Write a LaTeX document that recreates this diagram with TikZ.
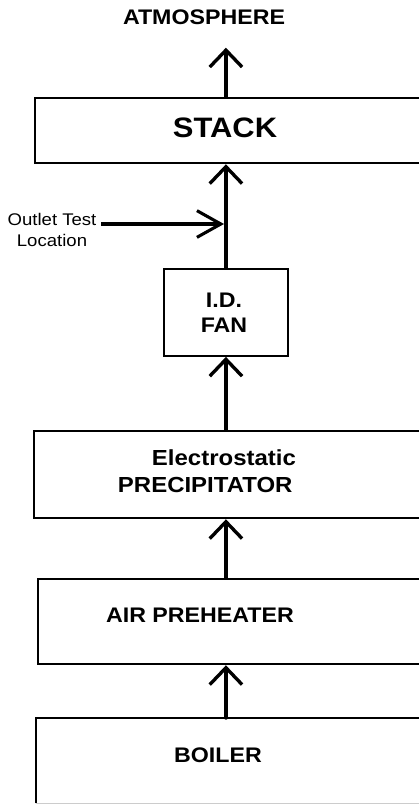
\documentclass[tikz,border=0pt]{standalone}
\usepackage{fontspec}
\setmainfont{Liberation Sans}[FakeStretch=1.1]
\usetikzlibrary{arrows.meta,positioning}

\tikzset{
  blk/.style={draw, line width=1.6pt, anchor=north west, inner sep=0pt},
  lbl/.style={font=\bfseries\fontsize{15}{17.7}\selectfont, align=center},
  flow/.style={line width=2.4pt, line cap=round,
    -{Straight Barb[length=12pt,width=23pt,line width=2.4pt]}},
  probe/.style={line width=2.2pt,
    -{Straight Barb[length=17pt,width=19pt,line width=2.2pt]}},
}

\begin{document}
\begin{tikzpicture}[x=0.025cm,y=-0.025cm]
  \useasboundingbox (0,0) rectangle (419,804);

  % boxes, top to bottom (right sides run off the page)
  \node[blk, minimum width=10.65cm, minimum height=1.625cm] (stack) at (34,97) {};
  \node[blk, line width=1.3pt, minimum width=3.1cm, minimum height=2.175cm] (fan) at (163,268) {};
  \node[blk, minimum width=10.675cm, minimum height=2.175cm] (precip) at (33,430) {};
  \node[blk, minimum width=10.575cm, minimum height=2.125cm] (airph) at (37,578) {};
  \node[blk, draw=none, minimum width=10.6cm, minimum height=2.075cm] (boiler) at (36,718) {};
  \draw[line width=1.6pt] (boiler.south west) -- (boiler.north west) -- (boiler.north east);
  \draw[line width=1pt, gray!40] (boiler.south west) -- (boiler.south east);

  % labels
  \node[lbl] (atmos) at (204,17) {ATMOSPHERE};
  \node[lbl, font=\bfseries\fontsize{20}{24}\selectfont] (stacktxt) at (225,128) {STACK};
  \node[lbl] (fantxt) at (224,313) {I.D.\\FAN};
  \node[lbl, font=\bfseries\fontsize{15.5}{19}\selectfont, align=left, anchor=west]
    (preciptxt) at (113,471) {\hspace*{0.85cm}Electrostatic\\PRECIPITATOR};
  \node[lbl] (airphtxt) at (200,615) {AIR PREHEATER};
  \node[lbl] (boilertxt) at (218,755) {BOILER};
  \node[align=center, font=\fontsize{12}{14.9}\selectfont] (outlet) at (52,230)
    {Outlet Test\\Location};

  % gas flow
  \draw[flow] (boiler.north -| fan) -- (airph.south -| fan);
  \draw[flow] (airph.north -| fan) -- (precip.south -| fan);
  \draw[flow] (precip.north -| fan) -- (fan.south);
  \draw[flow] (fan.north) -- (stack.south -| fan);
  \draw[flow, shorten >=13pt] (stack.north -| fan) -- (atmos.south -| fan);

  % sampling point
  \coordinate (testpt) at (224,224);
  \draw[probe] (outlet.east |- testpt) -- (testpt);
\end{tikzpicture}
\end{document}
